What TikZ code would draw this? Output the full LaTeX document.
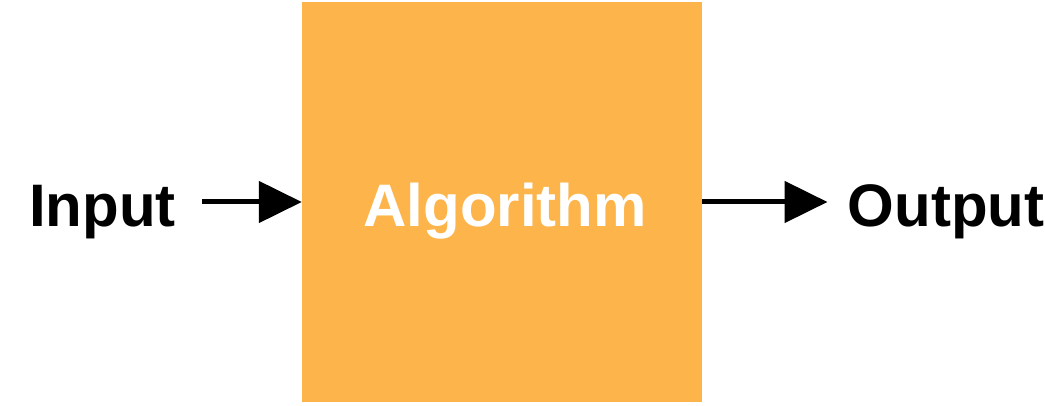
\documentclass[tikz,border=0pt]{standalone}
\usepackage{fontspec}
\setmainfont{Liberation Sans}
\usetikzlibrary{arrows.meta,positioning}
\definecolor{algoorange}{HTML}{FDB44B}

\begin{document}
\begin{tikzpicture}
[x=1pt, y=1pt, font=\fontsize{60}{72}\selectfont\bfseries,
flow/.style={-{Triangle[length=43pt, width=41pt]}, line width=5pt, draw=black},
label/.style={inner ysep=0pt, anchor=base},
algobox/.style={rectangle, fill=algoorange, text=white, minimum size=400pt,
  inner sep=0pt, text height=49pt, text depth=0pt}]

\useasboundingbox (0,0) rectangle (1045,405);

\node[algobox] (algo) at (502,203) {\hspace*{6pt}Algorithm};

\node[label, inner xsep=26pt] (input) at (102.5,178.5) {Input};
\node[label, inner xsep=20pt] (output) at (946,178.5) {Output};

\draw[flow] (input.east |- algo.west) -- (algo.west);
\draw[flow] (algo.east) -- (output.west |- algo.east);
\end{tikzpicture}
\end{document}
